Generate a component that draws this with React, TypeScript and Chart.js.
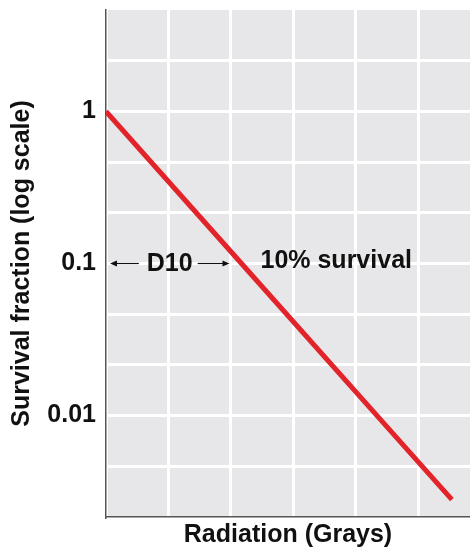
import React, { useEffect, useRef } from "react";
import { Chart, registerables } from "chart.js";

Chart.register(...registerables);

// ---- data ----
const doseGy = [0, 2.17, 4.34, 5.54];
const survivalFraction = [1, 0.1, 0.01, 0.0028];
const xGridGy = [0, 1, 2, 3, 4, 5];
const xMaxGy = 5.83;
const yGridExponents = [1 / 3, 0, -1 / 3, -2 / 3, -1, -4 / 3, -5 / 3, -2, -7 / 3, -8 / 3];
const yMinExp = -8 / 3;
const yMaxExp = 2 / 3;
const yTickValues = [1, 0.1, 0.01];
const yTickLabels = ["1", "0.1", "0.01"];
const d10Gy = 2.17;
const d10Level = 0.1;
const xTitle = "Radiation (Grays)";
const yTitle = "Survival fraction (log scale)";
const d10Text = "D10";
const survivalText = "10% survival";

const FONT = '"Liberation Sans", Arial, Helvetica, sans-serif';
const FS = 25;

const plotBackground = {
  id: "plotBackground",
  beforeDraw(chart: any) {
    const { ctx, chartArea } = chart;
    ctx.save();
    ctx.fillStyle = "#e7e6e8";
    ctx.fillRect(chartArea.left, chartArea.top, chartArea.right - chartArea.left, chartArea.bottom - chartArea.top);
    ctx.restore();
  },
};

function arrow(ctx: CanvasRenderingContext2D, x1: number, x2: number, y: number) {
  const dir = Math.sign(x2 - x1);
  ctx.beginPath();
  ctx.moveTo(x1, y);
  ctx.lineTo(x2 - dir * 5, y);
  ctx.stroke();
  ctx.beginPath();
  ctx.moveTo(x2, y);
  ctx.lineTo(x2 - dir * 7, y - 3);
  ctx.lineTo(x2 - dir * 7, y + 3);
  ctx.closePath();
  ctx.fill();
}

const annotations = {
  id: "annotations",
  afterDatasetsDraw(chart: any) {
    const { ctx } = chart;
    const xs = chart.scales.x;
    const ys = chart.scales.y;
    const x0 = xs.getPixelForValue(0);
    const xd = xs.getPixelForValue(d10Gy);
    const y = ys.getPixelForValue(d10Level);
    ctx.save();
    ctx.font = `bold ${FS}px ${FONT}`;
    ctx.fillStyle = "#111";
    ctx.strokeStyle = "#111";
    ctx.lineWidth = 1.2;
    ctx.textBaseline = "middle";
    const w = ctx.measureText(d10Text).width;
    const mid = (x0 + xd) / 2 - 4;
    ctx.textAlign = "center";
    ctx.fillText(d10Text, mid, y + 1);
    arrow(ctx, mid - w / 2 - 8, x0 + 4, y);
    arrow(ctx, mid + w / 2 + 5, xd - 12, y);
    ctx.textAlign = "left";
    ctx.fillText(survivalText, xd + 19, y - 2);
    ctx.restore();
  },
};

export default function App() {
  const ref = useRef<HTMLCanvasElement>(null);

  useEffect(() => {
    document.body.style.margin = "0";
    const canvas = ref.current!;
    const chart = new Chart(canvas, {
      type: "line",
      data: {
        datasets: [
          {
            data: doseGy.map((x, i) => ({ x, y: survivalFraction[i] })),
            borderColor: "#e2232a",
            borderWidth: 5,
            pointRadius: 0,
            tension: 0,
            borderCapStyle: "butt",
          },
        ],
      },
      options: {
        animation: false,
        responsive: false,
        layout: { padding: { top: 10, left: 0, right: 0, bottom: 0 } },
        plugins: { legend: { display: false }, tooltip: { enabled: false } },
        scales: {
          x: {
            type: "linear",
            min: 0,
            max: xMaxGy,
            afterBuildTicks: (s: any) => {
              s.ticks = xGridGy.map((v) => ({ value: v }));
            },
            afterFit: (s: any) => {
              s.height = 33;
              s.paddingLeft = 0;
              s.paddingRight = 0;
            },
            ticks: { display: false },
            grid: { color: "#ffffff", lineWidth: 3, drawTicks: false },
            border: { color: "#555", width: 1.5 },
            title: {
              display: true,
              text: xTitle,
              color: "#111",
              font: { family: FONT, size: FS, weight: "bold" },
              padding: { top: 0, bottom: 0 },
            },
          },
          y: {
            type: "logarithmic",
            min: Math.pow(10, yMinExp),
            max: Math.pow(10, yMaxExp),
            afterBuildTicks: (s: any) => {
              s.ticks = yGridExponents.map((e) => ({ value: Math.pow(10, e) }));
            },
            afterFit: (s: any) => {
              s.width = 106;
              s.paddingTop = 0;
              s.paddingBottom = 0;
            },
            ticks: {
              color: "#111",
              padding: 10,
              font: { family: FONT, size: FS, weight: "bold" },
              callback: (v: any) => {
                const i = yTickValues.findIndex((t) => Math.abs(Math.log10(t) - Math.log10(Number(v))) < 1e-6);
                return i >= 0 ? yTickLabels[i] : "";
              },
            },
            grid: { color: "#ffffff", lineWidth: 3, drawTicks: false },
            border: { color: "#555", width: 1.5 },
            title: {
              display: true,
              text: yTitle,
              color: "#111",
              font: { family: FONT, size: FS, weight: "bold" },
              padding: { top: 7, bottom: 0 },
            },
          },
        },
      },
      plugins: [plotBackground, annotations],
    });
    return () => chart.destroy();
  }, []);

  return (
    <div style={{ position: "absolute", left: 0, top: 0, width: 470, height: 550 }}>
      <canvas ref={ref} width={470} height={550} style={{ display: "block" }} />
    </div>
  );
}
